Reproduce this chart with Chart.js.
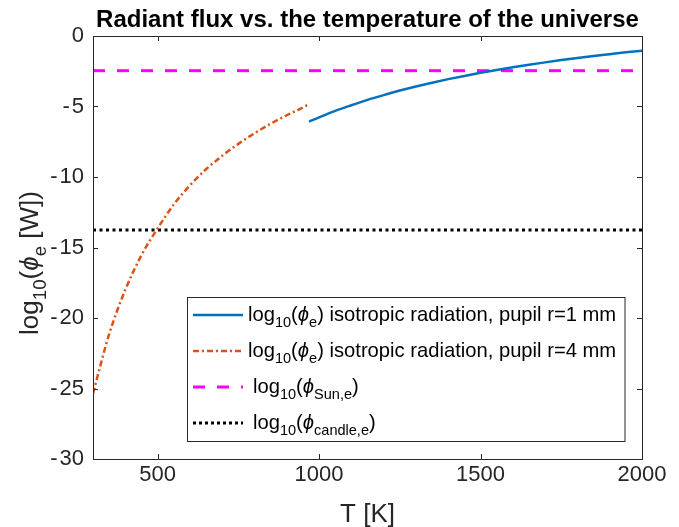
<!DOCTYPE html>
<html><head><meta charset="utf-8">
<script src="https://cdn.jsdelivr.net/npm/chart.js@4.4.1/dist/chart.umd.min.js"></script>
<style>html,body{margin:0;padding:0;background:#fff}#wrap{width:679px;height:527px;position:relative}</style>
</head><body><div id="wrap"><canvas id="c" width="679" height="527"></canvas></div>
<script>
// ---- data ----
const tempsR4 = [300,350,400,450,500,550,600,650,700,750,800,850,900,950,968];
const logFluxR4 = [-25.35,-21.15,-18.0,-15.55,-13.65,-11.95,-10.6,-9.45,-8.5,-7.65,-6.9,-6.22,-5.62,-5.07,-4.83];
const tempsR1 = [969,1000,1050,1100,1150,1200,1250,1300,1350,1400,1450,1500,1550,1600,1650,1700,1750,1800,1850,1900,1950,2000];
const logFluxR1 = [-6.07,-5.77,-5.31,-4.91,-4.53,-4.19,-3.87,-3.58,-3.31,-3.06,-2.83,-2.61,-2.41,-2.22,-2.04,-1.87,-1.71,-1.56,-1.42,-1.29,-1.16,-1.04];
const sunTemps = [300,2000];
const sunLevel = [-2.46,-2.46];
const candleTemps = [300,2000];
const candleLevel = [-13.76,-13.76];
const xTickValues = [500,1000,1500,2000];
const yTickValues = [-30,-25,-20,-15,-10,-5,0];

const FONT = '"Liberation Sans", Arial, Helvetica, sans-serif';
const AX = '#262626';
const BLUE = '#0072BD', ORANGE = '#D95319', MAGENTA = '#FF00FF', BLACK = '#000000';

const pts = (xs, ys) => xs.map((x,i)=>({x:x,y:ys[i]}));

function richWidth(ctx, segs, size){
  let w=0;
  for(const s of segs){
    const fs = s.sub ? size*0.72 : size;
    ctx.font = (s.it?'italic ':'')+fs+'px '+FONT;
    w += ctx.measureText(s.t).width;
  }
  return w;
}
function drawRich(ctx, segs, x, y, size, align){
  const w = richWidth(ctx, segs, size);
  let cx = align==='center' ? x - w/2 : x;
  ctx.textBaseline='alphabetic';
  ctx.textAlign='left';
  for(const s of segs){
    const fs = s.sub ? size*0.72 : size;
    ctx.font = (s.it?'italic ':'')+fs+'px '+FONT;
    ctx.fillText(s.t, cx, y + (s.sub ? size*0.3 : 0));
    cx += ctx.measureText(s.t).width;
  }
}

const legendItems = [
  {segs:[{t:'log'},{t:'10',sub:1},{t:'('},{t:'ϕ',it:1},{t:'e',sub:1},{t:') isotropic radiation, pupil r=1 mm'}], color:BLUE, dash:[], w:2.5, tx:248},
  {segs:[{t:'log'},{t:'10',sub:1},{t:'('},{t:'ϕ',it:1},{t:'e',sub:1},{t:') isotropic radiation, pupil r=4 mm'}], color:ORANGE, dash:[6,3,2,3], w:2.5, tx:248},
  {segs:[{t:'log'},{t:'10',sub:1},{t:'('},{t:'ϕ',it:1},{t:'Sun,e',sub:1},{t:')'}], color:MAGENTA, dash:[12,12], w:3, tx:253},
  {segs:[{t:'log'},{t:'10',sub:1},{t:'('},{t:'ϕ',it:1},{t:'candle,e',sub:1},{t:')'}], color:BLACK, dash:[3,3], w:3, tx:253}
];

const framePlugin = {
  id:'frame',
  afterDraw(chart){
    const ctx = chart.ctx, a = chart.chartArea;
    const xs = chart.scales.x, ys = chart.scales.y;
    ctx.save();
    ctx.strokeStyle = AX; ctx.lineWidth = 1;
    ctx.strokeRect(Math.round(a.left)+0.5, Math.round(a.top)+0.5, Math.round(a.right-a.left), Math.round(a.bottom-a.top));
    ctx.beginPath();
    for(const v of xTickValues){
      const px = Math.round(xs.getPixelForValue(v))+0.5;
      ctx.moveTo(px, a.bottom); ctx.lineTo(px, a.bottom-5);
      ctx.moveTo(px, a.top); ctx.lineTo(px, a.top+5);
    }
    for(const v of yTickValues){
      const py = Math.round(ys.getPixelForValue(v))+0.5;
      ctx.moveTo(a.left, py); ctx.lineTo(a.left+5, py);
      ctx.moveTo(a.right, py); ctx.lineTo(a.right-5, py);
    }
    ctx.stroke();
    // title
    ctx.fillStyle = '#000';
    ctx.font = 'bold 24px '+FONT;
    ctx.textAlign='center'; ctx.textBaseline='alphabetic';
    ctx.fillText('Radiant flux vs. the temperature of the universe', (a.left+a.right)/2, 27);
    // x label
    ctx.fillStyle = AX;
    ctx.font = '26px '+FONT;
    ctx.fillText('T [K]', (a.left+a.right)/2, 522);
    // y label
    ctx.save();
    ctx.translate(38, 263);
    ctx.rotate(-Math.PI/2);
    drawRich(ctx, [{t:'log'},{t:'10',sub:1},{t:'('},{t:'ϕ',it:1},{t:'e',sub:1},{t:' [W])'}], 0, 0, 26, 'center');
    ctx.restore();
    // legend
    const L = {x:187.5, y:297.5, w:437.5, h:144};
    ctx.fillStyle='#fff'; ctx.fillRect(L.x, L.y, L.w, L.h);
    ctx.strokeStyle=AX; ctx.lineWidth=1; ctx.setLineDash([]);
    ctx.strokeRect(L.x, L.y, L.w, L.h);
    const rowsY = [315, 351, 387, 423];
    legendItems.forEach((it,i)=>{
      const y = rowsY[i];
      ctx.strokeStyle = it.color; ctx.lineWidth = it.w; ctx.setLineDash(it.dash);
      ctx.beginPath(); ctx.moveTo(193, y); ctx.lineTo(243, y); ctx.stroke();
      ctx.setLineDash([]);
      ctx.fillStyle='#000';
      drawRich(ctx, it.segs, it.tx, y+6, 20.2, 'left');
    });
    ctx.restore();
  }
};

const fmt = (v) => (v < 0 ? '-\u200A' + Math.abs(v) : String(v));

new Chart(document.getElementById('c').getContext('2d'), {
  type:'line',
  data:{datasets:[
    {label:'r=1 mm', data:pts(tempsR1, logFluxR1), borderColor:BLUE, borderWidth:2.5, pointRadius:0, cubicInterpolationMode:'monotone', fill:false},
    {label:'r=4 mm', data:pts(tempsR4, logFluxR4), borderColor:ORANGE, borderWidth:2.5, borderDash:[6,3,2,3], pointRadius:0, cubicInterpolationMode:'monotone', fill:false},
    {label:'Sun', data:pts(sunTemps, sunLevel), borderColor:MAGENTA, borderWidth:3, borderDash:[12,12], pointRadius:0, fill:false},
    {label:'candle', data:pts(candleTemps, candleLevel), borderColor:BLACK, borderWidth:3, borderDash:[3,3.5], pointRadius:0, fill:false}
  ]},
  options:{
    responsive:false, animation:false,
    layout:{padding:{top:36,right:37,bottom:0,left:0}},
    plugins:{legend:{display:false}, title:{display:false}, tooltip:{enabled:false}},
    scales:{
      x:{type:'linear', min:300, max:2000,
         afterBuildTicks(s){ s.ticks = xTickValues.map(v=>({value:v})); },
         afterFit(s){ s.height = 68; },
         grid:{display:false, drawTicks:false}, border:{display:false},
         ticks:{font:{family:FONT,size:22}, color:AX, padding:3, maxRotation:0, autoSkip:false, callback:fmt}},
      y:{type:'linear', min:-30, max:0,
         afterBuildTicks(s){ s.ticks = yTickValues.map(v=>({value:v})); },
         afterFit(s){ s.width = 93; },
         grid:{display:false, drawTicks:false}, border:{display:false},
         ticks:{font:{family:FONT,size:22}, color:AX, padding:9, autoSkip:false, callback:fmt}}
    }
  },
  plugins:[framePlugin]
});
</script></body></html>
